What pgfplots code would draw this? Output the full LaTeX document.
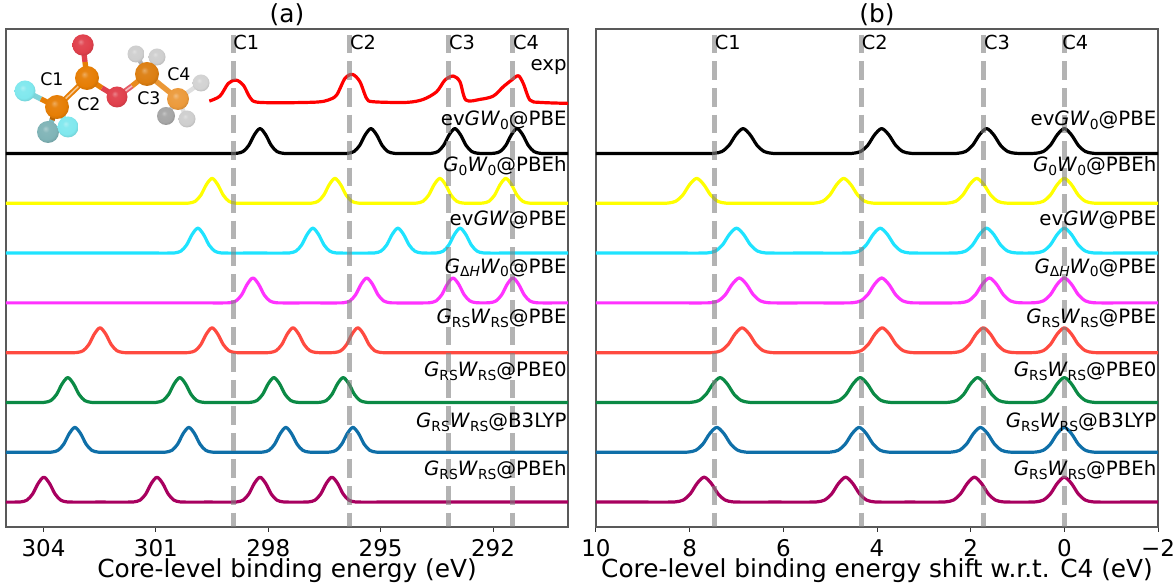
\documentclass[border=0pt]{standalone}
\usepackage{pgfplots}
\usepackage{pgfplotstable}
\pgfplotsset{compat=1.18}
\usepackage{fontspec}
\setmainfont{DejaVu Sans}
\definecolor{cBlack}{HTML}{000000}
\definecolor{cYellow}{HTML}{FFFF00}
\definecolor{cCyan}{HTML}{1FE3FF}
\definecolor{cMag}{HTML}{FF33FF}
\definecolor{cRed}{HTML}{FF4A40}
\definecolor{cGreen}{HTML}{0B8A45}
\definecolor{cBlue}{HTML}{0F6FA8}
\definecolor{cPurple}{HTML}{A8005F}
\definecolor{cDash}{HTML}{808080}
\definecolor{cOr}{HTML}{E67E05}
\definecolor{cOx}{HTML}{E0404C}
\definecolor{cF}{HTML}{80E8EE}
\makeatletter
\pgfdeclareradialshading[tikz@ball]{softball}{\pgfpoint{-6bp}{8bp}}{%
  color(0bp)=(tikz@ball!65!white);
  color(8bp)=(tikz@ball!95!white);
  color(22bp)=(tikz@ball);
  color(36bp)=(tikz@ball!78!black);
  color(56bp)=(tikz@ball!50!black)}
\makeatother
\tikzset{atom/.style={ball color=#1,shading=softball},
  bond/.style={line width=4pt},
  hbond/.style={line width=3.2pt}}

\pgfplotstableread[row sep=\\]{e I\\
288 0\\ 290.00 0\\
290.61 0\\ 290.76 0.006\\ 290.91 0.04\\ 291.06 0.162\\ 291.21 0.377\\ 291.36 0.5\\ 291.51 0.377\\ 291.66 0.162\\ 291.81 0.04\\ 291.96 0.006\\ 292.11 0\\
292.27 0\\ 292.42 0.006\\ 292.57 0.04\\ 292.72 0.162\\ 292.87 0.377\\ 293.02 0.5\\ 293.17 0.377\\ 293.32 0.162\\ 293.47 0.04\\ 293.62 0.006\\ 293.77 0\\
294.51 0\\ 294.66 0.006\\ 294.81 0.04\\ 294.96 0.162\\ 295.11 0.377\\ 295.26 0.5\\ 295.41 0.377\\ 295.56 0.162\\ 295.71 0.04\\ 295.86 0.006\\ 296.01 0\\
296.74 0\\
297.47 0\\ 297.62 0.006\\ 297.77 0.04\\ 297.92 0.162\\ 298.07 0.377\\ 298.22 0.5\\ 298.37 0.377\\ 298.52 0.162\\ 298.67 0.04\\ 298.82 0.006\\ 298.97 0\\
299.57 0\\ 301.20 0\\ 307 0\\
}\tBlack
\pgfplotstableread[row sep=\\]{e I\\
288 0\\ 290.31 0\\
290.91 0\\ 291.06 0.006\\ 291.21 0.04\\ 291.36 0.162\\ 291.51 0.377\\ 291.66 0.5\\ 291.81 0.377\\ 291.96 0.162\\ 292.11 0.04\\ 292.26 0.006\\ 292.41 0\\
292.67 0\\ 292.82 0.006\\ 292.97 0.04\\ 293.12 0.162\\ 293.27 0.377\\ 293.42 0.5\\ 293.57 0.377\\ 293.72 0.162\\ 293.87 0.04\\ 294.02 0.006\\ 294.17 0\\
294.82 0\\
295.47 0\\ 295.62 0.006\\ 295.77 0.04\\ 295.92 0.162\\ 296.07 0.377\\ 296.22 0.5\\ 296.37 0.377\\ 296.52 0.162\\ 296.67 0.04\\ 296.82 0.006\\ 296.97 0\\
297.86 0\\
298.75 0\\ 298.90 0.006\\ 299.05 0.04\\ 299.20 0.162\\ 299.35 0.377\\ 299.50 0.5\\ 299.65 0.377\\ 299.80 0.162\\ 299.95 0.04\\ 300.10 0.006\\ 300.25 0\\
300.85 0\\ 302.50 0\\ 307 0\\
}\tYellow
\pgfplotstableread[row sep=\\]{s I\\
-4 0\\ -1.35 0\\
-0.75 0\\ -0.60 0.006\\ -0.45 0.04\\ -0.30 0.162\\ -0.15 0.377\\ 0 0.5\\ 0.15 0.377\\ 0.30 0.162\\ 0.45 0.04\\ 0.60 0.006\\ 0.75 0\\
1.12 0\\ 1.27 0.006\\ 1.42 0.04\\ 1.57 0.162\\ 1.72 0.377\\ 1.87 0.5\\ 2.02 0.377\\ 2.17 0.162\\ 2.32 0.04\\ 2.47 0.006\\ 2.62 0\\
3.29 0\\
3.96 0\\ 4.11 0.006\\ 4.26 0.04\\ 4.41 0.162\\ 4.56 0.377\\ 4.71 0.5\\ 4.86 0.377\\ 5.01 0.162\\ 5.16 0.04\\ 5.31 0.006\\ 5.46 0\\
6.28 0\\
7.10 0\\ 7.25 0.006\\ 7.40 0.04\\ 7.55 0.162\\ 7.70 0.377\\ 7.85 0.5\\ 8.00 0.377\\ 8.15 0.162\\ 8.30 0.04\\ 8.45 0.006\\ 8.60 0\\
9.20 0\\ 12 0\\
}\tYellowB
\pgfplotstableread[row sep=\\]{e I\\
288 0\\ 289.90 0\\ 291.53 0\\
292.13 0\\ 292.28 0.006\\ 292.43 0.04\\ 292.58 0.162\\ 292.73 0.377\\ 292.88 0.5\\ 293.03 0.377\\ 293.18 0.162\\ 293.33 0.04\\ 293.48 0.006\\ 293.63 0\\
293.79 0\\ 293.94 0.006\\ 294.09 0.04\\ 294.24 0.162\\ 294.39 0.377\\ 294.54 0.5\\ 294.69 0.377\\ 294.84 0.162\\ 294.99 0.04\\ 295.14 0.006\\ 295.29 0\\
296.06 0\\ 296.21 0.006\\ 296.36 0.04\\ 296.51 0.162\\ 296.66 0.377\\ 296.81 0.5\\ 296.96 0.377\\ 297.11 0.162\\ 297.26 0.04\\ 297.41 0.006\\ 297.56 0\\
298.35 0\\
299.13 0\\ 299.28 0.006\\ 299.43 0.04\\ 299.58 0.162\\ 299.73 0.377\\ 299.88 0.5\\ 300.03 0.377\\ 300.18 0.162\\ 300.33 0.04\\ 300.48 0.006\\ 300.63 0\\
301.23 0\\ 302.90 0\\ 307 0\\
}\tCyan
\pgfplotstableread[row sep=\\]{e I\\
288 0\\ 290.12 0\\
290.72 0\\ 290.87 0.006\\ 291.02 0.04\\ 291.17 0.162\\ 291.32 0.377\\ 291.47 0.5\\ 291.62 0.377\\ 291.77 0.162\\ 291.92 0.04\\ 292.07 0.006\\ 292.22 0\\
292.32 0\\ 292.47 0.006\\ 292.62 0.04\\ 292.77 0.162\\ 292.92 0.377\\ 293.07 0.5\\ 293.22 0.377\\ 293.37 0.162\\ 293.52 0.04\\ 293.67 0.006\\ 293.82 0\\
294.62 0\\ 294.77 0.006\\ 294.92 0.04\\ 295.07 0.162\\ 295.22 0.377\\ 295.37 0.5\\ 295.52 0.377\\ 295.67 0.162\\ 295.82 0.04\\ 295.97 0.006\\ 296.12 0\\
296.89 0\\
297.66 0\\ 297.81 0.006\\ 297.96 0.04\\ 298.11 0.162\\ 298.26 0.377\\ 298.41 0.5\\ 298.56 0.377\\ 298.71 0.162\\ 298.86 0.04\\ 299.01 0.006\\ 299.16 0\\
299.76 0\\ 301.40 0\\ 307 0\\
}\tMag
\pgfplotstableread[row sep=\\]{e I\\
288 0\\ 292.60 0\\ 294.26 0\\
294.86 0\\ 295.01 0.006\\ 295.16 0.04\\ 295.31 0.162\\ 295.46 0.377\\ 295.61 0.5\\ 295.76 0.377\\ 295.91 0.162\\ 296.06 0.04\\ 296.21 0.006\\ 296.36 0\\
296.59 0\\ 296.74 0.006\\ 296.89 0.04\\ 297.04 0.162\\ 297.19 0.377\\ 297.34 0.5\\ 297.49 0.377\\ 297.64 0.162\\ 297.79 0.04\\ 297.94 0.006\\ 298.09 0\\
298.75 0\\ 298.90 0.006\\ 299.05 0.04\\ 299.20 0.162\\ 299.35 0.377\\ 299.50 0.5\\ 299.65 0.377\\ 299.80 0.162\\ 299.95 0.04\\ 300.10 0.006\\ 300.25 0\\
301.00 0\\
301.74 0\\ 301.89 0.006\\ 302.04 0.04\\ 302.19 0.162\\ 302.34 0.377\\ 302.49 0.5\\ 302.64 0.377\\ 302.79 0.162\\ 302.94 0.04\\ 303.09 0.006\\ 303.24 0\\
303.84 0\\ 305.50 0\\ 307 0\\
}\tRed
\pgfplotstableread[row sep=\\]{e I\\
288 0\\ 293.00 0\\ 294.65 0\\
295.25 0\\ 295.40 0.006\\ 295.55 0.04\\ 295.70 0.162\\ 295.85 0.377\\ 296.00 0.5\\ 296.15 0.377\\ 296.30 0.162\\ 296.45 0.04\\ 296.60 0.006\\ 296.75 0\\
297.10 0\\ 297.25 0.006\\ 297.40 0.04\\ 297.55 0.162\\ 297.70 0.377\\ 297.85 0.5\\ 298.00 0.377\\ 298.15 0.162\\ 298.30 0.04\\ 298.45 0.006\\ 298.60 0\\
299.10 0\\
299.61 0\\ 299.76 0.006\\ 299.91 0.04\\ 300.06 0.162\\ 300.21 0.377\\ 300.36 0.5\\ 300.51 0.377\\ 300.66 0.162\\ 300.81 0.04\\ 300.96 0.006\\ 301.11 0\\
301.85 0\\
302.60 0\\ 302.75 0.006\\ 302.90 0.04\\ 303.05 0.162\\ 303.20 0.377\\ 303.35 0.5\\ 303.50 0.377\\ 303.65 0.162\\ 303.80 0.04\\ 303.95 0.006\\ 304.10 0\\
304.70 0\\ 307 0\\
}\tGreen
\pgfplotstableread[row sep=\\]{e I\\
288 0\\ 292.70 0\\ 294.39 0\\
294.99 0\\ 295.14 0.006\\ 295.29 0.04\\ 295.44 0.162\\ 295.59 0.377\\ 295.74 0.5\\ 295.89 0.377\\ 296.04 0.162\\ 296.19 0.04\\ 296.34 0.006\\ 296.49 0\\
296.78 0\\ 296.93 0.006\\ 297.08 0.04\\ 297.23 0.162\\ 297.38 0.377\\ 297.53 0.5\\ 297.68 0.377\\ 297.83 0.162\\ 297.98 0.04\\ 298.13 0.006\\ 298.28 0\\
298.82 0\\
299.37 0\\ 299.52 0.006\\ 299.67 0.04\\ 299.82 0.162\\ 299.97 0.377\\ 300.12 0.5\\ 300.27 0.377\\ 300.42 0.162\\ 300.57 0.04\\ 300.72 0.006\\ 300.87 0\\
301.64 0\\
302.41 0\\ 302.56 0.006\\ 302.71 0.04\\ 302.86 0.162\\ 303.01 0.377\\ 303.16 0.5\\ 303.31 0.377\\ 303.46 0.162\\ 303.61 0.04\\ 303.76 0.006\\ 303.91 0\\
304.50 0\\ 307 0\\
}\tBlue
\pgfplotstableread[row sep=\\]{e I\\
288 0\\ 293.30 0\\ 294.95 0\\
295.55 0\\ 295.70 0.006\\ 295.85 0.04\\ 296.00 0.162\\ 296.15 0.377\\ 296.30 0.5\\ 296.45 0.377\\ 296.60 0.162\\ 296.75 0.04\\ 296.90 0.006\\ 297.05 0\\
297.47 0\\ 297.62 0.006\\ 297.77 0.04\\ 297.92 0.162\\ 298.07 0.377\\ 298.22 0.5\\ 298.37 0.377\\ 298.52 0.162\\ 298.67 0.04\\ 298.82 0.006\\ 298.97 0\\
299.60 0\\
300.22 0\\ 300.37 0.006\\ 300.52 0.04\\ 300.67 0.162\\ 300.82 0.377\\ 300.97 0.5\\ 301.12 0.377\\ 301.27 0.162\\ 301.42 0.04\\ 301.57 0.006\\ 301.72 0\\
302.48 0\\
303.24 0\\ 303.39 0.006\\ 303.54 0.04\\ 303.69 0.162\\ 303.84 0.377\\ 303.99 0.5\\ 304.14 0.377\\ 304.29 0.162\\ 304.44 0.04\\ 304.59 0.006\\ 304.74 0\\
305.34 0\\ 307 0\\
}\tPurple

\newcommand\sub[1]{\raisebox{-0.2em}{\fontsize{10.4}{11}\selectfont #1}}
\newcommand\RS{\sub{RS}}
\newcommand\lab[3]{\node[anchor=base east,inner sep=0pt,font=\fontsize{14.8}{16}\selectfont] at (axis cs:#1,#2) {#3};}
\newcommand\clab[2]{\node[anchor=base west,inner sep=0pt,font=\fontsize{14.5}{16}\selectfont] at (axis cs:#1,9.08) {#2};}
\newcommand\labels[1]{%
  \lab{#1}{7.57}{ev\textit{GW}\sub{0}@PBE}
  \lab{#1}{6.63}{\textit{G}\sub{0}\textit{W}\sub{0}@PBEh}
  \lab{#1}{5.56}{ev\textit{GW}@PBE}
  \lab{#1}{4.60}{\textit{G}\sub{Δ\textit{H}}\textit{W}\sub{0}@PBE}
  \lab{#1}{3.59}{\textit{G}\RS\textit{W}\RS@PBE}
  \lab{#1}{2.53}{\textit{G}\RS\textit{W}\RS@PBE0}
  \lab{#1}{1.49}{\textit{G}\RS\textit{W}\RS@B3LYP}
  \lab{#1}{0.54}{\textit{G}\RS\textit{W}\RS@PBEh}
}
\pgfplotsset{
  specax/.style={
    scale only axis, height=373.5pt, width=421.5pt,
    ymin=-0.5, ymax=9.5, ytick=\empty, x dir=reverse,
    axis line style={black!65,line width=0.9pt},
    tick style={black!80,line width=0.75pt},
    xtick pos=bottom, major tick length=3.5pt, tickwidth=3.5pt,
    tick align=outside,
    ticklabel style={font=\fontsize{17.25}{20}\selectfont},
    xticklabel style={anchor=base,yshift=-18.5pt,inner sep=0pt},
    every axis title shift=0pt,
    xlabel style={font=\fontsize{18.6}{20}\selectfont,at={(axis description cs:0.5,0)},anchor=base,yshift=-38pt,inner sep=0pt},
    title style={font=\fontsize{18.6}{20}\selectfont,at={(axis description cs:0.5,1)},anchor=base,yshift=4.5pt},
    every axis plot/.append style={no marks,smooth,tension=0.5,line width=2.4pt,line join=round},
  },
  vl/.style={cDash,opacity=0.6,line width=3.75pt,dash pattern=on 13.9pt off 6pt,smooth=false,sharp plot},
}
\begin{document}
\begin{tikzpicture}
\useasboundingbox (0,0) rectangle (882pt,438pt);
\begin{axis}[specax,at={(4.5pt,42.75pt)},anchor=south west,
  xmin=290,xmax=305,xtick={304,301,298,295,292},xticklabels={304,301,298,295,292},
  xlabel={Core-level binding energy (eV)},title={(a)}]
\addplot[red] coordinates {(299.574,8.052)(299.289,8.153)(299.067,8.407)(298.862,8.474)(298.666,8.374)(298.489,8.126)(298.311,8.032)(297.599,8.019)(296.709,8.032)(296.398,8.073)(296.176,8.173)(295.953,8.508)(295.749,8.588)(295.553,8.441)(295.375,8.106)(295.197,8.039)(294.307,8.026)(293.863,8.086)(293.507,8.240)(293.284,8.474)(293.062,8.555)(292.884,8.441)(292.724,8.073)(292.350,8.086)(291.994,8.153)(291.728,8.340)(291.505,8.474)(291.327,8.561)(291.194,8.407)(291.016,8.073)(290.749,8.026)(289.993,8.006)};
\addplot[cBlack] table[x=e,y expr=\thisrow{I}+7]{\tBlack};
\addplot[cYellow] table[x=e,y expr=\thisrow{I}+6]{\tYellow};
\addplot[cCyan] table[x=e,y expr=\thisrow{I}+5]{\tCyan};
\addplot[cMag] table[x=e,y expr=\thisrow{I}+4]{\tMag};
\addplot[cRed] table[x=e,y expr=\thisrow{I}+3]{\tRed};
\addplot[cGreen] table[x=e,y expr=\thisrow{I}+2]{\tGreen};
\addplot[cBlue] table[x=e,y expr=\thisrow{I}+1]{\tBlue};
\addplot[cPurple] table[x=e,y expr=\thisrow{I}]{\tPurple};
\addplot[vl] coordinates {(298.94,9.38)(298.94,-0.5)};
\addplot[vl] coordinates {(295.82,9.38)(295.82,-0.5)};
\addplot[vl] coordinates {(293.18,9.38)(293.18,-0.5)};
\addplot[vl] coordinates {(291.47,9.38)(291.47,-0.5)};
\clab{298.94}{C1}\clab{295.82}{C2}\clab{293.18}{C3}\clab{291.47}{C4}
\lab{290.03}{8.675}{exp}
\labels{290.03}
\end{axis}
\begin{axis}[specax,at={(447pt,42.75pt)},anchor=south west,
  xmin=-2,xmax=10,xtick={10,8,6,4,2,0,-2},xticklabels={10,8,6,4,2,0,−2},
  xlabel={Core-level binding energy shift w.r.t. C4 (eV)},title={(b)}]
\addplot[cBlack] table[x expr=\thisrow{e}-291.36,y expr=\thisrow{I}+7]{\tBlack};
\addplot[cYellow] table[x=s,y expr=\thisrow{I}+6]{\tYellowB};
\addplot[cCyan] table[x expr=\thisrow{e}-292.88,y expr=\thisrow{I}+5]{\tCyan};
\addplot[cMag] table[x expr=\thisrow{e}-291.47,y expr=\thisrow{I}+4]{\tMag};
\addplot[cRed] table[x expr=\thisrow{e}-295.61,y expr=\thisrow{I}+3]{\tRed};
\addplot[cGreen] table[x expr=\thisrow{e}-296.00,y expr=\thisrow{I}+2]{\tGreen};
\addplot[cBlue] table[x expr=\thisrow{e}-295.74,y expr=\thisrow{I}+1]{\tBlue};
\addplot[cPurple] table[x expr=\thisrow{e}-296.30,y expr=\thisrow{I}]{\tPurple};
\addplot[vl] coordinates {(7.47,9.38)(7.47,-0.5)};
\addplot[vl] coordinates {(4.33,9.38)(4.33,-0.5)};
\addplot[vl] coordinates {(1.72,9.38)(1.72,-0.5)};
\addplot[vl] coordinates {(0,9.38)(0,-0.5)};
\clab{7.47}{C1}\clab{4.33}{C2}\clab{1.72}{C3}\clab{0.05}{C4}
\labels{-1.97}
\end{axis}
% molecule inset, in pixel coordinates of the picture
\begin{scope}[x=0.75pt,y=-0.75pt,shift={(0pt,438pt)}]
  % bonds
  \draw[bond,cF!80!gray] (25,91)--(41,99);
  \draw[bond,cOr] (41,99)--(57,107);
  \draw[bond,cF!60!gray] (48,132)--(52,120);
  \draw[bond,cOr!80!black] (52,120)--(57,107);
  \shade[atom=cF!50!gray] (48,132) circle (11);
  \draw[bond,cF] (68,127)--(63,117);
  \draw[bond,cOr] (63,117)--(57,107);
  \draw[bond,cOr] (57,107)--(87,78);
  \draw[line width=1.2pt,cOr!45!white] (57,107)--(87,78);
  \draw[bond,cOx] (83,45)--(85,62);
  \draw[bond,cOr] (85,62)--(87,78);
  \draw[bond,cOr] (87,78)--(102,88);
  \draw[bond,cOx] (102,88)--(117,97);
  \draw[bond,cOx!85!white] (117,97)--(132,86);
  \draw[bond,cOr!90!white] (132,86)--(147,74);
  \draw[line width=1.2pt,cOx!35!white] (117,97)--(132,86);
  \draw[bond,cOr!80!white] (147,74)--(178,99);
  \draw[hbond,gray!60] (147,74)--(136,54);
  \draw[hbond,gray!70] (147,74)--(157,57);
  \draw[hbond,gray!25] (178,99)--(201,83);
  \draw[hbond,gray!25] (178,99)--(187,119);
  \draw[hbond,gray!45] (178,99)--(166,116);
  % atoms
  \shade[atom=gray!70] (166,116) circle (9);
  \shade[atom=gray!38] (136,54) circle (8.5);
  \shade[atom=gray!38] (157,57) circle (8.5);
  \shade[atom=gray!35] (201,83) circle (8.5);
  \shade[atom=gray!38] (187,119) circle (8.5);
  \shade[atom=cF] (25,91) circle (10.5);
  \shade[atom=cF] (68,127) circle (10.5);
  \shade[atom=cOr] (57,107) circle (12);
  \shade[atom=cOx] (83,45) circle (10.7);
  \shade[atom=cOr] (87,78) circle (12);
  \shade[atom=cOx] (117,97) circle (10.5);
  \shade[atom=cOr!90!gray] (147,74) circle (12);
  \shade[atom=cOr!78!white] (178,99) circle (11);
  \node[anchor=base west,inner sep=0pt,font=\fontsize{13}{15}\selectfont] at (40,86) {C1};
  \node[anchor=base west,inner sep=0pt,font=\fontsize{13}{15}\selectfont] at (77,111) {C2};
  \node[anchor=base west,inner sep=0pt,font=\fontsize{13}{15}\selectfont] at (137,105) {C3};
  \node[anchor=base west,inner sep=0pt,font=\fontsize{13}{15}\selectfont] at (167,81) {C4};
\end{scope}
\end{tikzpicture}
\end{document}
